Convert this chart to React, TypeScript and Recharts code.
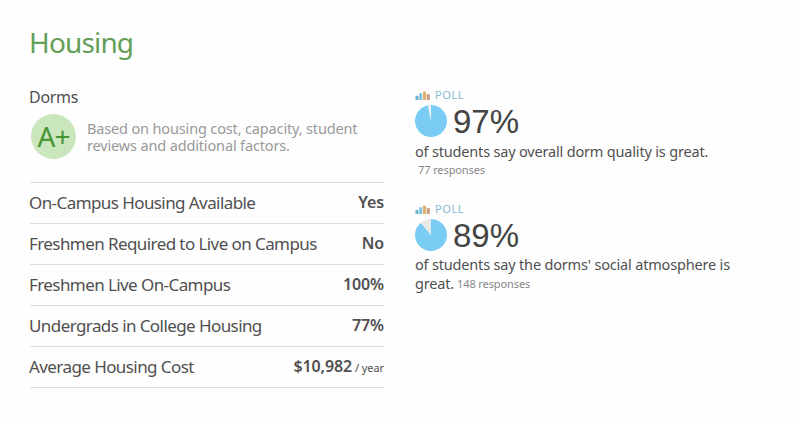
import React from "react";
import { PieChart, Pie, Cell, BarChart, Bar } from "recharts";

const rowLabels = ["On-Campus Housing Available", "Freshmen Required to Live on Campus", "Freshmen Live On-Campus", "Undergrads in College Housing", "Average Housing Cost"];
const rowValues = ["Yes", "No", "100%", "77%", "$10,982"];
const descriptionLines = ["Based on housing cost, capacity, student", "reviews and additional factors."];
const pollPercents = [97, 89];
const pollLineA = ["of students say overall dorm quality is great.", "of students say the dorms' social atmosphere is"];
const pollLineB = "great.";
const pollResponses = ["77 responses", "148 responses"];
const iconHeights = [5, 8, 10, 7];
const iconColors = ["#6fb3d2", "#7fc0dc", "#e0b070", "#c99a80"];
const PIE_BLUE = "#7accf5";
const PIE_REST = ["#f0f0f0", "#e9e9e6"];
const FONT = "'Noto Sans', sans-serif";

const abs = (left: number, top: number, style: React.CSSProperties = {}): React.CSSProperties => ({
  position: "absolute", left, top, whiteSpace: "nowrap", ...style,
});

function PollIcon({ left, top }: { left: number; top: number }) {
  const data = iconHeights.map((v) => ({ v }));
  return (
    <div style={abs(left, top)}>
      <BarChart width={15} height={10} data={data} margin={{ top: 0, right: 0, bottom: 0, left: 0 }} barCategoryGap={0.5}>
        <Bar dataKey="v" isAnimationActive={false}>
          {data.map((_, i) => <Cell key={i} fill={iconColors[i]} />)}
        </Bar>
      </BarChart>
    </div>
  );
}

function PollPie({ left, top, pct, rest }: { left: number; top: number; pct: number; rest: string }) {
  const data = [{ v: pct }, { v: 100 - pct }];
  return (
    <div style={abs(left, top)}>
      <PieChart width={34} height={34} margin={{ top: 0, right: 0, bottom: 0, left: 0 }}>
        <Pie data={data} dataKey="v" cx={17} cy={17} innerRadius={0} outerRadius={16} startAngle={90} endAngle={-270} stroke="none" isAnimationActive={false}>
          <Cell fill={PIE_BLUE} />
          <Cell fill={rest} />
        </Pie>
      </PieChart>
    </div>
  );
}

function value(i: number) {
  if (i === 4) {
    return <>{rowValues[i]}<span style={{ fontSize: 11, fontWeight: 400, marginLeft: 3 }}>/ year</span></>;
  }
  return rowValues[i];
}

export default function App() {
  return (
    <div style={{ position: "absolute", left: 0, top: 0, width: 800, height: 425, background: "#fefefe", overflow: "hidden", fontFamily: FONT, color: "#505050" }}>
      <div style={abs(29, 23, { fontSize: 28, lineHeight: "38px", color: "#649f58", letterSpacing: -0.85 })}>Housing</div>
      <div style={abs(29, 87, { fontSize: 16, lineHeight: "20px", letterSpacing: -0.3 })}>Dorms</div>

      <div style={abs(31, 114, { width: 45, height: 45, borderRadius: "50%", background: "#c9e6bd", color: "#4a9438", fontSize: 28, lineHeight: "45px", textAlign: "center", letterSpacing: -1 })}>A+</div>
      {descriptionLines.map((line, i) => (
        <div key={line} style={abs(87, 120 + i * 17, { fontSize: 14.5, lineHeight: "17px", color: "#999999", letterSpacing: -0.15 })}>{line}</div>
      ))}

      {rowLabels.map((label, i) => {
        const top = 182 + i * 41;
        return (
          <React.Fragment key={label}>
            <div style={{ position: "absolute", left: 30, top, width: 354, height: 1, background: "#dedede" }} />
            <div style={abs(29, top + 9, { fontSize: 17, lineHeight: "23px", letterSpacing: -0.58 })}>{label}</div>
            <div style={{ position: "absolute", right: 416, top: top + 9, fontSize: 16, lineHeight: "23px", fontWeight: 600, letterSpacing: -0.1, whiteSpace: "nowrap" }}>
              {value(i)}
            </div>
          </React.Fragment>
        );
      })}
      <div style={{ position: "absolute", left: 30, top: 387, width: 354, height: 1, background: "#dedede" }} />

      {pollPercents.map((pct, i) => {
        const y = i * 114;
        return (
          <React.Fragment key={pct}>
            <PollIcon left={415} top={90 + y} />
            <div style={abs(435, 88 + y, { fontSize: 11, lineHeight: "13px", color: "#85b9d0", letterSpacing: 0.6 })}>POLL</div>
            <PollPie left={414} top={104 + y} pct={pct} rest={PIE_REST[i]} />
            <div style={abs(453, 101 + y, { fontFamily: "'Liberation Sans', sans-serif", fontSize: 33, lineHeight: "42px", color: "#444444" })}>{pct}%</div>
          </React.Fragment>
        );
      })}
      <div style={abs(415, 141, { fontSize: 14.5, lineHeight: "20px", letterSpacing: -0.18 })}>{pollLineA[0]}</div>
      <div style={abs(418, 163, { fontSize: 11, lineHeight: "14px", color: "#888888", letterSpacing: -0.1 })}>{pollResponses[0]}</div>
      <div style={abs(415, 255, { fontSize: 14.5, lineHeight: "19px", letterSpacing: -0.18 })}>{pollLineA[1]}</div>
      <div style={abs(415, 274, { fontSize: 14.5, lineHeight: "19px", letterSpacing: -0.18 })}>{pollLineB}</div>
      <div style={abs(457, 277, { fontSize: 11, lineHeight: "14px", color: "#888888", letterSpacing: -0.1 })}>{pollResponses[1]}</div>
    </div>
  );
}
